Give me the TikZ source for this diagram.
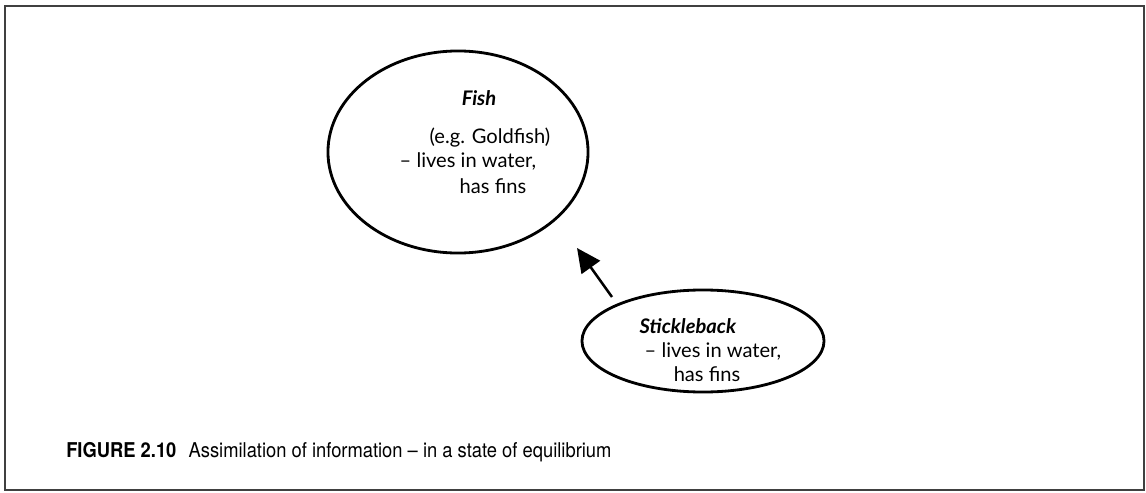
\documentclass[tikz,border=0pt]{standalone}
\usepackage{fontspec}
\setmainfont{Lato}
\newfontfamily\capfont[FakeStretch=0.9, Ligatures=TeX]{TeX Gyre Heros}
\usetikzlibrary{shapes.geometric}
\usetikzlibrary{arrows.meta,positioning}

\begin{document}
\begin{tikzpicture}[x=0.025cm, y=-0.025cm, node distance=1cm, auto,
    concept/.style={draw, ellipse, line width=2pt, inner sep=0pt},
    words/.style={font=\fontsize{14.3}{18.5}\selectfont, align=center, inner sep=0pt}]

    % frame
    \draw[line width=1.4pt, black!75] (5,6) rectangle (1144,490);
    \useasboundingbox (0,0) rectangle (1146,493);

    \node[concept, minimum width=6.5cm, minimum height=5.05cm] (fish) at (458,152) {};
    \node[words, anchor=base] (fish_name) at (479,105) {\textbf{\textit{Fish}}};
    \node[words, anchor=base] (fish_eg) at (490,143) {(e.g. Goldfish)};
    \node[words, anchor=base] (fish_water) at (468,167) {-- lives in water,};
    \node[words, anchor=base] (fish_fins) at (493,193) {has fins};

    \node[concept, minimum width=6.05cm, minimum height=2.55cm] (stickle) at (703,341) {};
    \node[words, anchor=base] (stickle_name) at (688,333) {\textbf{\textit{Stickleback}}};
    \node[words, anchor=base] (stickle_water) at (713,357) {-- lives in water,};
    \node[words, anchor=base] (stickle_fins) at (707,381) {has fins};

    \coordinate (tail) at (612,297);
    \coordinate (tip) at (577,248);
    \draw[-{Triangle[length=17pt, width=16pt]}, line width=1.8pt] (tail) -- (tip);

    \node[anchor=base west, inner sep=0pt, font=\capfont\fontsize{14.5}{17}\selectfont] (caption) at (66,457)
    	{\textbf{FIGURE 2.10}\hspace{0.6em}Assimilation of information -- in a state of equilibrium};

  \end{tikzpicture}
\end{document}
